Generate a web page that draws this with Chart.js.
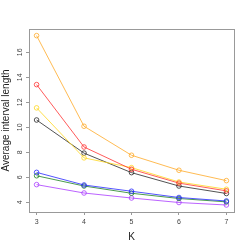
<!DOCTYPE html>
<html>
<head>
<meta charset="utf-8">
<script src="https://cdn.jsdelivr.net/npm/chart.js@4"></script>
<style>
html,body{margin:0;padding:0;background:#fff;}
#wrap{width:249px;height:249px;}
</style>
</head>
<body>
<div id="wrap"><canvas id="c" width="249" height="249"></canvas></div>
<script>
const K = [3, 4, 5, 6, 7];
const xTicks = [3, 4, 5, 6, 7];
const yTicks = [4, 6, 8, 10, 12, 14, 16];
const orangeVals = [17.33, 10.08, 7.76, 6.56, 5.73];
const redVals    = [13.41, 8.42, 6.64, 5.53, 4.91];
const yellowVals = [11.55, 7.55, 6.77, 5.62, 5.04];
const blackVals  = [10.58, 7.93, 6.37, 5.30, 4.70];
const blueVals   = [6.39, 5.38, 4.88, 4.38, 4.10];
const greenVals  = [6.12, 5.30, 4.72, 4.30, 4.03];
const purpleVals = [5.41, 4.74, 4.34, 3.98, 3.78];

const seriesNames = ['orange','red','yellow','black','blue','green','purple'];
const seriesVals = [orangeVals, redVals, yellowVals, blackVals, blueVals, greenVals, purpleVals];
const seriesColors = ['rgba(255,170,40,0.8)','rgba(255,50,50,0.8)','rgba(255,215,30,0.8)','rgba(40,40,40,0.8)','rgba(40,40,255,0.8)','rgba(30,130,30,0.8)','rgba(170,60,255,0.8)'];

const datasets = seriesVals.map((vals, i) => ({
  label: seriesNames[i],
  data: K.map((k, j) => ({x: k, y: vals[j]})),
  borderColor: seriesColors[i],
  pointBorderColor: seriesColors[i],
  pointBackgroundColor: 'rgba(255,255,255,0)',
  borderWidth: 1,
  pointRadius: 2.3,
  pointBorderWidth: 1,
  pointStyle: 'circle',
  tension: 0
}));

const boxPlugin = {
  id: 'box',
  afterDraw(chart) {
    const {ctx, chartArea: a} = chart;
    ctx.save();
    ctx.strokeStyle = '#999';
    ctx.lineWidth = 1;
    ctx.strokeRect(Math.round(a.left) + 0.5, Math.round(a.top) + 0.5, Math.round(a.right - a.left), Math.round(a.bottom - a.top));
    ctx.restore();
  }
};

const tickFont = {family: 'Liberation Sans, Arial, sans-serif', size: 7};
const titleFont = {family: 'Liberation Sans, Arial, sans-serif', size: 10};

new Chart(document.getElementById('c'), {
  type: 'line',
  data: {datasets},
  plugins: [boxPlugin],
  options: {
    responsive: false,
    animation: false,
    layout: {padding: {top: 29, right: 15, left: 0, bottom: 0}},
    plugins: {legend: {display: false}, tooltip: {enabled: false}},
    scales: {
      x: {
        type: 'linear',
        min: 2.84, max: 7.16,
        afterBuildTicks: s => { s.ticks = xTicks.map(v => ({value: v})); },
        afterFit: s => { s.height = 37; },
        grid: {drawOnChartArea: false, tickLength: 3, color: '#999'},
        border: {display: false},
        ticks: {font: tickFont, color: '#444', padding: 3, maxRotation: 0, autoSkip: false},
        title: {display: true, text: 'K', font: titleFont, color: '#222', padding: {top: 0, bottom: 6}}
      },
      y: {
        type: 'linear',
        min: 3.22, max: 17.86,
        afterBuildTicks: s => { s.ticks = yTicks.map(v => ({value: v})); },
        afterFit: s => { s.width = 29; },
        grid: {drawOnChartArea: false, tickLength: 3, color: '#999'},
        border: {display: false},
        ticks: {font: tickFont, color: '#444', padding: 2, minRotation: 90, maxRotation: 90, crossAlign: 'center', autoSkip: false},
        title: {display: true, text: 'Average interval length', font: titleFont, color: '#222', padding: {top: 0.6, bottom: 0}}
      }
    }
  }
});
</script>
</body>
</html>
